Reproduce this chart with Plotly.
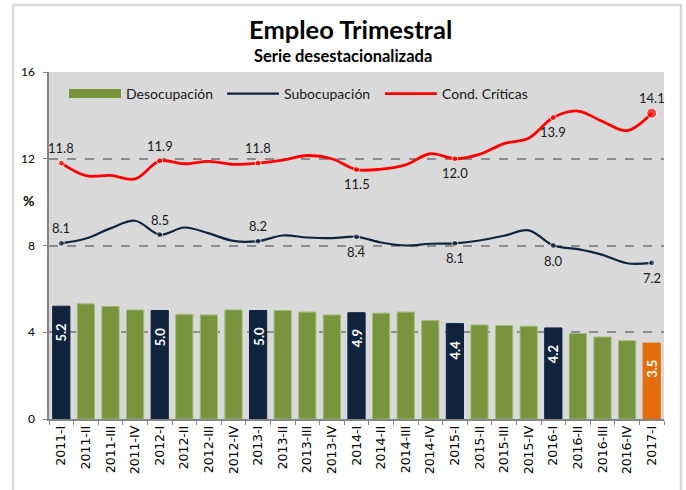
import plotly.graph_objects as go

categories = ["2011-I","2011-II","2011-III","2011-IV","2012-I","2012-II","2012-III","2012-IV",
              "2013-I","2013-II","2013-III","2013-IV","2014-I","2014-II","2014-III","2014-IV",
              "2015-I","2015-II","2015-III","2015-IV","2016-I","2016-II","2016-III","2016-IV","2017-I"]
desocupacion = [5.2, 5.31, 5.19, 5.03, 5.0, 4.83, 4.8, 5.03, 5.0, 5.0, 4.93, 4.8, 4.9,
                4.88, 4.93, 4.54, 4.4, 4.34, 4.31, 4.28, 4.2, 3.94, 3.78, 3.61, 3.5]
subocupacion = [8.1, 8.32, 8.79, 9.14, 8.5, 8.83, 8.56, 8.21, 8.2, 8.46, 8.37, 8.34, 8.4,
                8.14, 8.0, 8.08, 8.1, 8.23, 8.45, 8.7, 8.0, 7.83, 7.57, 7.18, 7.2]
cond_criticas = [11.8, 11.22, 11.23, 11.07, 11.9, 11.77, 11.88, 11.74, 11.8, 11.94, 12.15, 12.0, 11.5,
                 11.52, 11.72, 12.23, 12.0, 12.2, 12.7, 12.95, 13.9, 14.2, 13.72, 13.3, 14.1]
labeled_idx = [0, 4, 8, 12, 16, 20, 24]
sub_label_pos = ["above", "above", "above", "below", "below", "below", "below"]
cc_label_pos = ["above", "above", "above", "below", "below", "below", "above"]

GREEN = "#77933C"
NAVY = "#10243E"
ORANGE = "#E46C0A"
RED = "#FF0000"
FONT = "Lato"

n = len(categories)
bar_colors = []
bar_lines = []
for i in range(n):
    if i == n - 1:
        bar_colors.append(ORANGE); bar_lines.append(ORANGE)
    elif i in labeled_idx:
        bar_colors.append(NAVY); bar_lines.append(NAVY)
    else:
        bar_colors.append(GREEN); bar_lines.append("#A3BC78")

fig = go.Figure()
fig.add_trace(go.Bar(x=categories, y=desocupacion,
                     marker=dict(color=bar_colors, line=dict(color=bar_lines, width=1)),
                     showlegend=False, hoverinfo="skip"))
# legend proxy for the bars (wide rectangle symbol)
fig.add_trace(go.Scatter(x=[None], y=[None], mode="lines", line=dict(color=GREEN, width=9),
                         name="Desocupación"))

fig.add_trace(go.Scatter(x=categories, y=subocupacion, mode="lines", name="Subocupación",
                         line=dict(color=NAVY, width=2.2, shape="spline", smoothing=1.0)))
fig.add_trace(go.Scatter(x=categories, y=cond_criticas, mode="lines", name="Cond. Críticas",
                         line=dict(color=RED, width=2.8, shape="spline", smoothing=1.0)))

lab_x = [categories[i] for i in labeled_idx]
sizes = [6] * (len(labeled_idx) - 1)
fig.add_trace(go.Scatter(x=lab_x, y=[subocupacion[i] for i in labeled_idx], mode="markers",
                         marker=dict(size=sizes + [6], color=NAVY), showlegend=False, hoverinfo="skip"))
fig.add_trace(go.Scatter(x=lab_x, y=[cond_criticas[i] for i in labeled_idx], mode="markers",
                         marker=dict(size=sizes + [10], color=RED), showlegend=False, hoverinfo="skip"))

annotations = []
for k, i in enumerate(labeled_idx):
    annotations.append(dict(x=categories[i], y=desocupacion[i], text=f"<b>{desocupacion[i]:.1f}</b>",
                            textangle=-90, yshift=-26, showarrow=False,
                            font=dict(family=FONT, size=13, color="white")))
    annotations.append(dict(x=categories[i], y=subocupacion[i], text=f"{subocupacion[i]:.1f}",
                            yshift=15 if sub_label_pos[k] == "above" else -15, showarrow=False,
                            font=dict(family=FONT, size=13, color="#1A1A1A")))
    annotations.append(dict(x=categories[i], y=cond_criticas[i], text=f"{cond_criticas[i]:.1f}",
                            yshift=15 if cc_label_pos[k] == "above" else -14, showarrow=False,
                            font=dict(family=FONT, size=13, color="#1A1A1A")))

L, R, T, B = 49, 22, 72, 71
W, H = 686, 490
pw, ph = W - L - R, H - T - B

def px_x(p):
    return (p - L) / pw

def px_y(p):
    return (H - B - p) / ph

annotations.append(dict(xref="paper", yref="paper", x=px_x(350), y=px_y(29), text="<b>Empleo Trimestral</b>",
                        showarrow=False, xanchor="center", yanchor="middle",
                        font=dict(family=FONT, size=25.5, color="black")))
annotations.append(dict(xref="paper", yref="paper", x=px_x(343), y=px_y(56), text="<b>Serie desestacionalizada</b>",
                        showarrow=False, xanchor="center", yanchor="middle",
                        font=dict(family=FONT, size=16.5, color="black")))
annotations.append(dict(xref="paper", yref="paper", x=px_x(29), y=px_y(200), text="<b>%</b>",
                        showarrow=False, xanchor="center", yanchor="middle",
                        font=dict(family=FONT, size=14, color="black")))

fig.update_layout(
    width=W, height=H,
    margin=dict(l=L, r=R, t=T, b=B, pad=0, autoexpand=False),
    paper_bgcolor="white",
    plot_bgcolor="#D9D9D9",
    bargap=0.3,
    font=dict(family=FONT, size=12, color="black"),
    legend=dict(orientation="h", x=px_x(64), xanchor="left", y=px_y(94), yanchor="middle",
                bgcolor="rgba(0,0,0,0)", itemwidth=52, entrywidth=91,
                font=dict(family=FONT, size=14, color="#1A1A1A")),
    annotations=annotations,
    shapes=[dict(type="rect", xref="paper", yref="paper", x0=px_x(13), x1=px_x(681), y0=px_y(500), y1=px_y(5),
                 line=dict(color="#D9D9D9", width=2.5), layer="below")],
)
fig.update_xaxes(type="category", range=[-0.5, n - 0.5], tickangle=-90, showgrid=False, ticks="outside",
                 tickson="boundaries", ticklen=4, tickcolor="#868686", showline=True, linecolor="#868686",
                 linewidth=1.5, tickfont=dict(family="DejaVu Sans", size=12.5, color="black"),
                 fixedrange=True, automargin=False)
fig.update_yaxes(range=[0, 16], tickvals=[0, 4, 8, 12, 16], showgrid=True, gridcolor="#8C8C8C",
                 griddash="dash", gridwidth=1.5, zeroline=False, showline=True, linecolor="#868686",
                 linewidth=1.5, ticks="outside", ticklen=4, tickcolor="#868686", ticklabelstandoff=6,
                 tickfont=dict(family=FONT, size=12, color="black"), fixedrange=True, automargin=False)

fig.write_html("out.html", config={"displayModeBar": False},
               post_script="document.body.style.margin='0';")
